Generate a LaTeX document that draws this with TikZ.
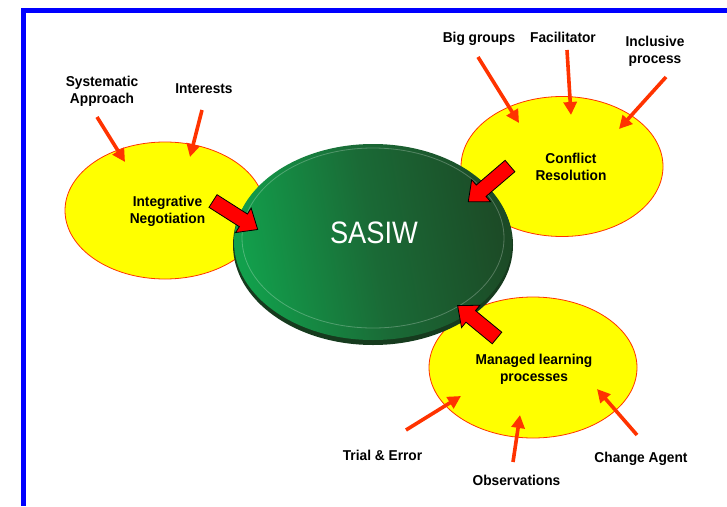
\documentclass[tikz,border=0pt]{standalone}
\usepackage{fontspec}
\setmainfont{Liberation Sans}
\newfontfamily\labfont[FakeStretch=0.96]{Liberation Sans}
\newfontfamily\hubfont[FakeStretch=0.88]{Liberation Sans}
\usetikzlibrary{arrows.meta,shapes.geometric}
\definecolor{frameblue}{HTML}{0000FF}
\definecolor{ylw}{HTML}{FFFF00}
\definecolor{ylwedge}{HTML}{FF3300}
\definecolor{thinred}{HTML}{FF3300}
\definecolor{gleft}{HTML}{12A04C}
\definecolor{gmid}{HTML}{1A6A36}
\definecolor{gright}{HTML}{1C4A26}
\newcommand\bigarr[3]{%
  \draw[bigarrow, shift={(#1)}, rotate=#2]
    (0,-7.5) -- (#3-17,-7.5) -- (#3-17,-14.5) -- (#3,0) -- (#3-17,14.5) -- (#3-17,7.5) -- (0,7.5) -- cycle;}
\begin{document}
\begin{tikzpicture}[x=1pt,y=-1pt,
  lab/.style={font=\labfont\bfseries\fontsize{14.3}{17}\selectfont, align=center, inner sep=0pt, text=black},
  bubble/.style={draw=ylwedge, line width=0.8pt, fill=ylw, ellipse, inner sep=0pt},
  feed/.style={draw=thinred, line width=3.6pt, -{Triangle[length=13pt,width=13pt]}},
  bigarrow/.style={draw=black, line width=0.8pt, fill=red, line join=miter}]
\useasboundingbox (0,0) rectangle (727,506);
\fill[white] (0,0) rectangle (727,506);
% frame
\draw[frameblue, line width=5pt, line join=miter] (727,10) -- (23.5,10) -- (23.5,506);
% yellow bubbles
\node[bubble, minimum width=200pt, minimum height=137pt] (bubL) at (165,210.5) {};
\node[bubble, minimum width=202pt, minimum height=140pt] (bubR) at (562,166.5) {};
\node[bubble, minimum width=208pt, minimum height=141pt] (bubB) at (533,367.5) {};
% green hub
\fill[gright!80!black] (373,245) ellipse [x radius=140pt, y radius=100pt];
\shade[left color=gleft, right color=gright, middle color=gmid, shading angle=100]
  (373,242) ellipse [x radius=139pt, y radius=98pt];
\draw[white, opacity=0.25, line width=0.8pt] (373,238) ellipse [x radius=131pt, y radius=90pt];
\node[font=\hubfont\fontsize{31}{31}\selectfont, text=white, inner sep=0pt] (hub) at (374,233) {SASIW};
% labels
\node[lab] (intneg) at (167.5,211) {Integrative\\Negotiation};
\node[lab] (confres) at (571,166.5) {Conflict\\Resolution};
\node[lab] (manlearn) at (534,369) {Managed learning\\processes};
\node[lab] (sysapp) at (102,91) {Systematic\\Approach};
\node[lab] (interests) at (204,89) {Interests};
\node[lab] (biggroups) at (479,39) {Big groups};
\node[lab] (facil) at (563,37) {Facilitator};
\node[lab] (inclusive) at (655,51.5) {Inclusive\\process};
\node[lab] (trial) at (382.5,455) {Trial \& Error};
\node[lab] (observ) at (516.5,480) {Observations};
\node[lab] (change) at (641,459) {Change Agent};
% feed arrows
\coordinate (sysT) at (97,117);   \coordinate (sysH) at (125,162);
\coordinate (intT) at (202,110);  \coordinate (intH) at (190,157);
\coordinate (bigT) at (478,57);   \coordinate (bigH) at (519,123);
\coordinate (facT) at (567,50);   \coordinate (facH) at (571,115);
\coordinate (incT) at (666,77);   \coordinate (incH) at (619,129);
\coordinate (triT) at (406,430);  \coordinate (triH) at (461,396);
\coordinate (obsT) at (513,462);  \coordinate (obsH) at (520,415);
\coordinate (chaT) at (637,435);  \coordinate (chaH) at (597,389);
\draw[feed] (sysT) -- (sysH);
\draw[feed] (intT) -- (intH);
\draw[feed] (bigT) -- (bigH);
\draw[feed] (facT) -- (facH);
\draw[feed] (incT) -- (incH);
\draw[feed] (triT) -- (triH);
\draw[feed] (obsT) -- (obsH);
\draw[feed] (chaT) -- (chaH);
% big red arrows
\bigarr{213,201}{-32.5}{53}
\bigarr{510,166}{-139.4}{55}
\bigarr{497,338}{140.6}{51}
\end{tikzpicture}
\end{document}
